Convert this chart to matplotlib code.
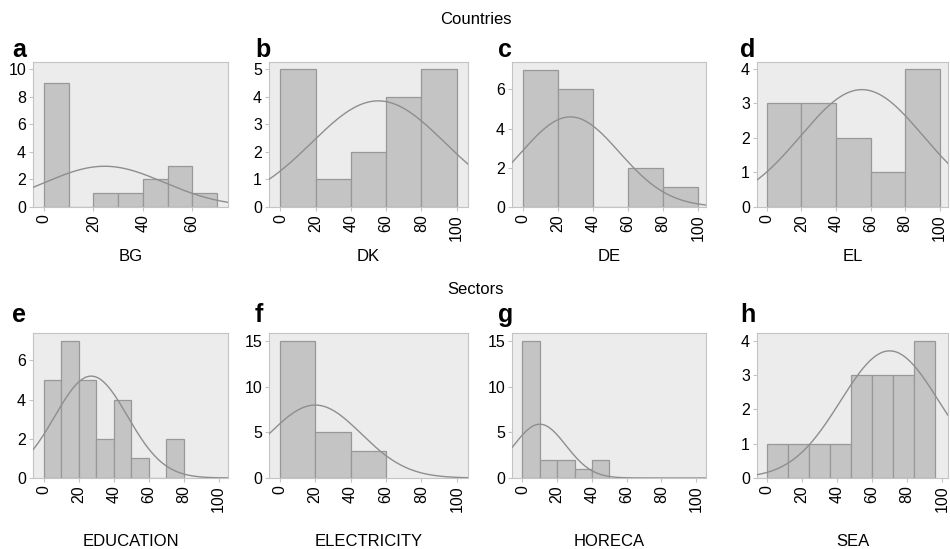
import numpy as np
import matplotlib
matplotlib.use("Agg")
import matplotlib.pyplot as plt

# =========================
# DATA
# =========================
panel_letters = ["a", "b", "c", "d", "e", "f", "g", "h"]
panel_names = ["BG", "DK", "DE", "EL", "EDUCATION", "ELECTRICITY", "HORECA", "SEA"]

# histogram bin edges per panel
bg_edges = [0, 10, 20, 30, 40, 50, 60, 70]
dk_edges = [0, 20, 40, 60, 80, 100]
de_edges = [0, 20, 40, 60, 80, 100]
el_edges = [0, 20, 40, 60, 80, 100]
edu_edges = [0, 10, 20, 30, 40, 50, 60, 70, 80]
elec_edges = [0, 20, 40, 60]
horeca_edges = [0, 10, 20, 30, 40, 50]
sea_edges = [0, 12, 24, 36, 48, 60, 72, 84, 96]

# counts per bin
bg_counts = [9, 0, 1, 1, 2, 3, 1]
dk_counts = [5, 1, 2, 4, 5]
de_counts = [7, 6, 0, 2, 1]
el_counts = [3, 3, 2, 1, 4]
edu_counts = [5, 7, 5, 2, 4, 1, 0, 2]
elec_counts = [15, 5, 3]
horeca_counts = [15, 2, 2, 1, 2]
sea_counts = [1, 1, 1, 1, 3, 3, 3, 4]

# fitted normal curve: peak height, mean, sd
curve_peak = [2.95, 3.85, 4.6, 3.4, 5.2, 8.0, 5.9, 3.7]
curve_mean = [24.5, 55.5, 27, 55, 27, 20, 10, 70]
curve_sd = [24, 37.8, 28, 35.4, 20.8, 26, 15, 28]

x_limits = [(-4.5, 74.5), (-6.5, 106.4), (-6.3, 104.4), (-5.7, 104.8),
            (-6.3, 105.3), (-6.1, 106.3), (-6.0, 105.6), (-5.7, 103.3)]
y_limits = [10.5, 5.26, 7.4, 4.2, 7.4, 15.9, 15.9, 4.22]
y_ticks = [[0, 2, 4, 6, 8, 10], [0, 1, 2, 3, 4, 5], [0, 2, 4, 6], [0, 1, 2, 3, 4],
           [0, 2, 4, 6], [0, 5, 10, 15], [0, 5, 10, 15], [0, 1, 2, 3, 4]]
x_ticks = [[0, 20, 40, 60]] + [[0, 20, 40, 60, 80, 100]] * 7

all_edges = [bg_edges, dk_edges, de_edges, el_edges, edu_edges, elec_edges, horeca_edges, sea_edges]
all_counts = [bg_counts, dk_counts, de_counts, el_counts, edu_counts, elec_counts, horeca_counts, sea_counts]

# =========================
# STYLE
# =========================
plt.rcParams["font.family"] = ["Liberation Sans", "DejaVu Sans"]
BG_COLOR = "#ececec"
BAR_COLOR = "#c4c4c4"
EDGE_COLOR = "#989898"
CURVE_COLOR = "#8e8e8e"
FRAME_COLOR = "#c4c4c4"

W, H = 950, 549
fig = plt.figure(figsize=(9.5, 5.49), dpi=100)

# axes boxes in pixels: left, right
col_px = [(33, 228), (269, 468), (512, 706), (757, 948)]
row_px = [(62, 207), (333, 478)]
letter_x = [12, 255, 498, 740]
letter_y = [57, 322]
label_y = [257, 541]

for i in range(8):
    r, c = divmod(i, 4)
    x0, x1 = col_px[c]
    y0, y1 = row_px[r]
    ax = fig.add_axes([x0 / W, 1 - y1 / H, (x1 - x0) / W, (y1 - y0) / H])
    ax.set_facecolor(BG_COLOR)
    edges = np.array(all_edges[i], dtype=float)
    counts = all_counts[i]
    ax.bar(edges[:-1], counts, width=np.diff(edges), align="edge",
           color=BAR_COLOR, edgecolor=EDGE_COLOR, linewidth=0.9, zorder=2)
    xs = np.linspace(x_limits[i][0], x_limits[i][1], 300)
    ys = curve_peak[i] * np.exp(-0.5 * ((xs - curve_mean[i]) / curve_sd[i]) ** 2)
    ax.plot(xs, ys, color=CURVE_COLOR, linewidth=1.0, zorder=3)
    ax.set_xlim(*x_limits[i])
    ax.set_ylim(0, y_limits[i])
    ax.set_xticks(x_ticks[i])
    ax.set_yticks(y_ticks[i])
    ax.tick_params(axis="x", labelrotation=90, labelsize=11.5, length=3,
                   color=FRAME_COLOR, pad=2)
    ax.tick_params(axis="y", labelsize=11.5, length=3, color=FRAME_COLOR, pad=2)
    for s in ax.spines.values():
        s.set_color(FRAME_COLOR)
        s.set_linewidth(0.8)
    fig.text(letter_x[c] / W, 1 - letter_y[r] / H, panel_letters[i],
             fontsize=18, fontweight="bold", ha="left", va="baseline")
    fig.text((x0 + x1) / 2 / W, 1 - label_y[r] / H, panel_names[i],
             fontsize=12, ha="center", va="center")

fig.text(476 / W, 1 - 20 / H, "Countries", fontsize=12, ha="center", va="center")
fig.text(476 / W, 1 - 289 / H, "Sectors", fontsize=12, ha="center", va="center")

fig.savefig("out.png", dpi=100)
